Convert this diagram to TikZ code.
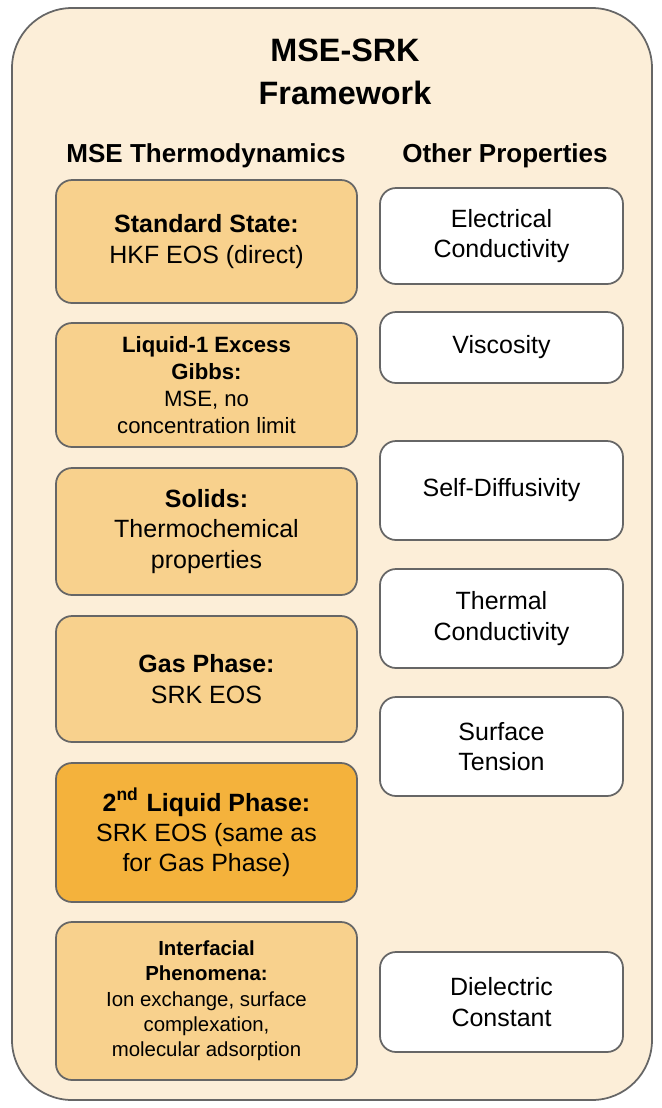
\documentclass[tikz,border=0pt]{standalone}
\usepackage{fontspec}
\setmainfont{Liberation Sans}
\definecolor{bgc}{HTML}{FCEED8}
\definecolor{lbox}{HTML}{F8D18D}
\definecolor{dbox}{HTML}{F4B23C}
\definecolor{edge}{HTML}{666666}
\begin{document}
\begin{tikzpicture}[x=0.01cm,y=-0.01cm,
  lb/.style={draw=edge,line width=0.5pt,rounded corners=0.16cm,fill=lbox,align=center,font=\fontsize{7.1}{8.6}\selectfont},
  rb/.style={draw=edge,line width=0.5pt,rounded corners=0.16cm,fill=white,align=center,font=\fontsize{7.1}{8.6}\selectfont},
  hd/.style={font=\fontsize{7.4}{9}\selectfont\bfseries}]
\useasboundingbox (0,0) rectangle (662,1108);
\draw[draw=edge,line width=0.5pt,fill=bgc,rounded corners=0.6cm] (12,8) rectangle (652,1100);
\node[align=center,font=\fontsize{9.2}{12.2}\selectfont\bfseries] (title) at (345,72) {MSE-SRK\\Framework};
\node[hd] (h1) at (206,156) {MSE Thermodynamics};
\node[hd] (h2) at (505,156) {Other Properties};
\path[lb] (56,180) rectangle (357,303) node[midway] (l1) {\textbf{Standard State:}\\HKF EOS (direct)};
\path[lb,font=\fontsize{6.3}{7.7}\selectfont] (56,323) rectangle (357,447) node[midway] (l2) {\textbf{Liquid-1 Excess}\\\textbf{Gibbs:}\\MSE, no\\concentration limit};
\path[lb] (56,468) rectangle (357,595) node[midway] (l3) {\textbf{Solids:}\\Thermochemical\\properties};
\path[lb] (56,616) rectangle (357,742) node[midway] (l4) {\textbf{Gas Phase:}\\SRK EOS};
\path[lb,fill=dbox] (56,763) rectangle (357,902) node[midway] (l5) {\textbf{2\textsuperscript{nd} Liquid Phase:}\\SRK EOS (same as\\for Gas Phase)};
\path[lb,font=\fontsize{5.8}{7.2}\selectfont] (56,922) rectangle (357,1080) node[midway] (l6) {\textbf{Interfacial}\\\textbf{Phenomena:}\\Ion exchange, surface\\complexation,\\molecular adsorption};
\path[rb] (380,188) rectangle (623,284) node[midway] (r1) {Electrical\\Conductivity};
\path[rb] (380,312) rectangle (623,383) node[midway] (r2) {Viscosity};
\path[rb] (380,441) rectangle (623,540) node[midway] (r3) {Self-Diffusivity};
\path[rb] (380,569) rectangle (623,668) node[midway] (r4) {Thermal\\Conductivity};
\path[rb] (380,697) rectangle (623,796) node[midway] (r5) {Surface\\Tension};
\path[rb] (380,952) rectangle (623,1052) node[midway] (r6) {Dielectric\\Constant};
\end{tikzpicture}
\end{document}
